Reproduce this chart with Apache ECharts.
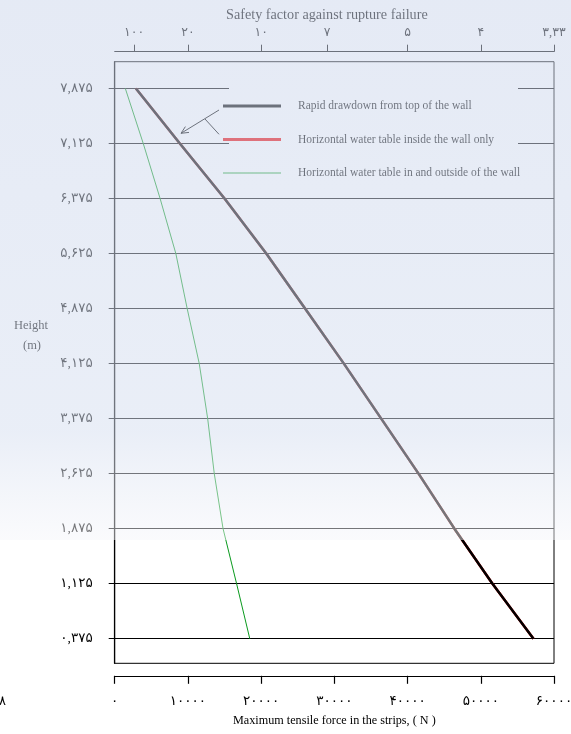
<!DOCTYPE html>
<html>
<head>
<meta charset="utf-8">
<script src="https://cdn.jsdelivr.net/npm/echarts@6/dist/echarts.min.js"></script>
<style>
  html, body { margin: 0; padding: 0; background: #ffffff; }
  #chart { width: 571px; height: 734px; }
</style>
</head>
<body>
<div id="chart"></div>
<script>
// Heights of the strip levels (m), bottom to top
const heights = [0.375, 1.125, 1.875, 2.625, 3.375, 4.125, 4.875, 5.625, 6.375, 7.125, 7.875];

// Maximum tensile force in the strips (N) at each height
const rapidDrawdown = [57200, 51600, 46400, 41500, 36400, 31300, 26000, 20700, 15000, 8900, 2900];
const waterInsideOnly = [57200, 51600, 46400, 41500, 36400, 31300, 26000, 20700, 15000, 8900, 2900];
const waterInAndOutside = [18450, 16650, 14800, 13600, 12700, 11550, 9900, 8350, 6200, 3900, 1450];

const seriesNames = [
  'Rapid drawdown from top of the wall',
  'Horizontal water table inside the wall only',
  'Horizontal water table in and outside of the wall'
];

// Secondary scale: safety factor against rupture, placed on the force scale
const safetyLabels = ['۱۰۰', '۲۰', '۱۰', '۷', '۵', '۴', '۳,۳۳'];
const safetyAtForce = [2650, 10000, 20000, 29000, 40000, 50000, 60000];

const serif = "'Liberation Serif', 'Times New Roman', serif";
const numFont = "'Liberation Serif', 'DejaVu Sans', serif";

function toPersian(s) {
  const d = '۰۱۲۳۴۵۶۷۸۹';
  return String(s).replace(/[0-9]/g, c => d[+c]).replace(/\./g, ',');
}

function pairs(values) {
  return heights.map((h, i) => [values[i], h]);
}

const chart = echarts.init(document.getElementById('chart'), null, { renderer: 'canvas' });

const option = {
  animation: false,
  backgroundColor: '#ffffff',
  grid: {
    left: 114.7, right: 17, top: 61.7, bottom: 70.7,
    outerBoundsMode: 'none', containLabel: false,
    show: true, borderColor: '#000', borderWidth: 1, backgroundColor: 'transparent'
  },
  xAxis: [
    {
      type: 'value', position: 'bottom', min: 0, max: 60000, interval: 10000,
      offset: 12.5,
      name: 'Maximum tensile force in the strips, ( N )',
      nameLocation: 'middle', nameGap: 39,
      nameTextStyle: { fontFamily: serif, fontSize: 12.2, color: '#000' },
      axisLine: { show: true, lineStyle: { color: '#000', width: 1.2 } },
      axisTick: { show: true, inside: false, length: 8, lineStyle: { color: '#000', width: 1.2 } },
      axisLabel: { margin: 19, fontFamily: numFont, fontSize: 13.5, color: '#000',
        formatter: v => toPersian(v) },
      splitLine: { show: false }
    },
    {
      type: 'value', position: 'top', min: 0, max: 60000,
      offset: 10,
      name: 'Safety factor against rupture failure',
      nameLocation: 'middle', nameGap: 22,
      nameTextStyle: { fontFamily: serif, fontSize: 14.2, color: '#000', padding: [0, 15, 0, 0] },
      axisLine: { show: true, lineStyle: { color: '#000', width: 1 } },
      axisTick: { show: true, inside: false, length: 7, customValues: safetyAtForce,
        lineStyle: { color: '#000', width: 1 } },
      axisLabel: { margin: 12, fontFamily: numFont, fontSize: 12.5, color: '#000',
        customValues: safetyAtForce,
        formatter: v => safetyLabels[safetyAtForce.indexOf(v)] },
      splitLine: { show: false }
    }
  ],
  yAxis: {
    type: 'value', min: 0.04, max: 8.24,
    offset: 12,
    axisLine: { show: true, lineStyle: { color: '#000', width: 1.2 } },
    axisTick: { show: true, inside: false, length: 6, customValues: heights,
      lineStyle: { color: '#000', width: 1 } },
    axisLabel: { margin: 10, fontFamily: numFont, fontSize: 13.5, color: '#000',
      customValues: heights,
      formatter: v => toPersian(v.toFixed(3)) },
    splitLine: { show: true, lineStyle: { color: '#000', width: 1 } }
  },
  legend: {
    orient: 'vertical', left: 223, top: 100, padding: 0,
    itemWidth: 58, itemHeight: 14, itemGap: 21.5,
    selectedMode: false,
    symbolKeepAspect: true,
    itemStyle: { borderWidth: 0 },
    textStyle: { fontFamily: serif, fontSize: 11.5, color: '#000', padding: [0, 0, 0, 12] },
    data: [
      { name: seriesNames[0], icon: 'path://M0,0H58V3H0Z' },
      { name: seriesNames[1], icon: 'path://M0,0H58V3H0Z' },
      { name: seriesNames[2], icon: 'path://M0,0H58V1H0Z' }
    ]
  },
  series: [
    {
      name: seriesNames[0], type: 'line', xAxisIndex: 0, z: 4,
      data: pairs(rapidDrawdown), showSymbol: false, symbol: 'none',
      color: '#000', lineStyle: { color: '#000', width: 2.5 }
    },
    {
      name: seriesNames[1], type: 'line', xAxisIndex: 0, z: 3,
      data: pairs(waterInsideOnly), showSymbol: false, symbol: 'none',
      color: '#ee0000', lineStyle: { color: '#ee0000', width: 2.5 }
    },
    {
      name: seriesNames[2], type: 'line', xAxisIndex: 0, z: 4,
      data: pairs(waterInAndOutside), showSymbol: false, symbol: 'none',
      color: '#0a9a1e', lineStyle: { color: '#0a9a1e', width: 1 }
    }
  ],
  graphic: [
    // clear band behind the legend
    { type: 'rect', z: 1, silent: true,
      shape: { x: 229, y: 80, width: 289, height: 105 },
      style: { fill: '#ffffff' } },
    // pointer from the legend to the curves
    { type: 'polyline', z: 6, silent: true,
      shape: { points: [[219, 110], [181, 133.3]] },
      style: { stroke: '#000', lineWidth: 1, fill: null } },
    { type: 'polyline', z: 6, silent: true,
      shape: { points: [[185.4, 126.6], [181, 133.3], [189, 132.4]] },
      style: { stroke: '#000', lineWidth: 1, fill: null } },
    { type: 'polyline', z: 6, silent: true,
      shape: { points: [[205, 119], [219, 134.3]] },
      style: { stroke: '#000', lineWidth: 1, fill: null } },
    // vertical axis title
    { type: 'text', z: 6, silent: true, x: 31, y: 326,
      style: { text: 'Height', fontFamily: serif, fontSize: 12.5, fill: '#000',
        align: 'center', verticalAlign: 'middle' } },
    { type: 'text', z: 6, silent: true, x: 32, y: 346,
      style: { text: '(m)', fontFamily: serif, fontSize: 12.5, fill: '#000',
        align: 'center', verticalAlign: 'middle' } },
    { type: 'text', z: 6, silent: true, x: 6, y: 702,
      style: { text: '۸', fontFamily: numFont, fontSize: 13, fill: '#000',
        align: 'right', verticalAlign: 'middle' } },
    // light wash across the upper part of the sheet
    { type: 'rect', z: 100, silent: true,
      shape: { x: 0, y: 0, width: 571, height: 540 },
      style: {
        fill: {
          type: 'linear', x: 0, y: 0, x2: 0, y2: 1,
          colorStops: [
            { offset: 0, color: 'rgba(205,215,236,0.52)' },
            { offset: 0.8, color: 'rgba(214,223,240,0.52)' },
            { offset: 1, color: 'rgba(245,246,250,0.48)' }
          ]
        }
      } }
  ]
};

chart.setOption(option);
</script>
</body>
</html>
